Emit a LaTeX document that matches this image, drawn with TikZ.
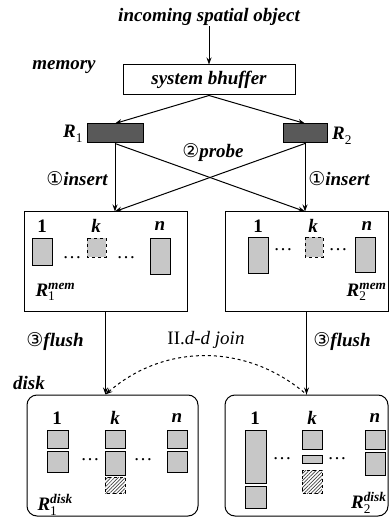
\documentclass[tikz,border=0pt]{standalone}
\usepackage{amsmath}
\usepackage{fontspec}
\setmainfont{Liberation Serif}
\newfontfamily\circfont{DejaVu Sans}
\usetikzlibrary{arrows.meta,patterns.meta}
\newcommand{\rel}[2]{$\text{R}_{\text{\upshape\mdseries #1}}^{\text{#2}}$}
\newcommand{\circnum}[1]{{\circfont\mdseries\upshape #1}}
\begin{document}
\begin{tikzpicture}[x=1pt,y=-1pt,line width=1pt,
    lbl/.style={font=\fontsize{19}{22}\selectfont\bfseries\itshape,inner sep=0pt},
    rbox/.style={draw,fill=black!65,minimum height=19pt,inner sep=0pt},
    area/.style={draw,inner sep=0pt},
    diskarea/.style={draw,rounded corners=10pt,inner sep=0pt},
    pg/.style={draw,fill=black!22},
    pgk/.style={draw,dashed,fill=black!22},
    pgh/.style={draw,dashed,pattern={Lines[angle=45,distance=2.5pt,line width=0.7pt]},pattern color=black!75},
    arr/.style={-{Stealth[length=7pt,width=5pt]}}]
  \useasboundingbox (0,0) rectangle (391,518);
  \draw
    (209,17) node[lbl] (src) {incoming spatial object}
    (64,67) node[lbl] (memlbl) {memory}
    (29,383) node[lbl] (disklbl) {disk}
    (209,80) node[area,minimum width=172pt,minimum height=30pt,lbl] (buf) {system bhuffer}
    (115,133.5) node[rbox,minimum width=56pt] (r1) {}
    (305,133.5) node[rbox,minimum width=44pt] (r2) {}
    (73,134) node[lbl] (r1lbl) {\rel{1}{}}
    (342,136) node[lbl] (r2lbl) {\rel{2}{}}
    (105.5,261.5) node[area,minimum width=163pt,minimum height=99pt] (mem1) {}
    (306.5,261.5) node[area,minimum width=163pt,minimum height=99pt] (mem2) {}
    (112.5,455.5) node[diskarea,minimum width=171pt,minimum height=121pt] (disk1) {}
    (306.5,455.5) node[diskarea,minimum width=163pt,minimum height=121pt] (disk2) {};
  \draw
    (213,153) node[lbl] (probe) {\circnum{②}probe}
    (77,179) node[lbl] (ins1) {\circnum{①}insert}
    (339,179) node[lbl] (ins2) {\circnum{①}insert}
    (55,342) node[lbl] (fl1) {\circnum{③}flush}
    (342,342) node[lbl] (fl2) {\circnum{③}flush}
    (206,340) node[lbl,font=\fontsize{19}{22}\selectfont\itshape] (join) {\textup{II.}d-d join}
    (35,292) node[lbl,anchor=west] (m1lbl) {\rel{1}{mem}}
    (387,292) node[lbl,anchor=east] (m2lbl) {\rel{2}{mem}}
    (37,505) node[lbl,anchor=west] (d1lbl) {\rel{1}{disk}}
    (387,503) node[lbl,anchor=east] (d2lbl) {\rel{2}{disk}};
  \begin{scope}[arr]
    \draw (src) -- (buf);
    \draw (buf.south) -- (r1.north);
    \draw (buf.south) -- (r2.north);
    \draw (r1.south) -- (r1.south |- mem1.north);
    \draw (r1.south) -- (r2.south |- mem2.north);
    \draw (r2.south) -- (r2.south |- mem2.north);
    \draw (r2.south) -- (r1.south |- mem1.north);
    \draw (mem1.south) -- (mem1.south |- disk1.north);
    \draw (mem2.south) -- (mem2.south |- disk2.north);
  \end{scope}
  \draw[arr,{Stealth[length=7pt,width=5pt]}-,dashed]
    (mem1.south |- disk1.north) to[bend left=41] (mem2.south |- disk2.north);
  % memory pages
  \draw
    (42,226) node[lbl] (a1) {\upshape 1}
    (96,226) node[lbl] (ak) {k}
    (160,226) node[lbl] (an) {n}
    (72,258) node[lbl] {\mdseries\upshape\dots}
    (126,258) node[lbl] {\mdseries\upshape\dots}
    (258,226) node[lbl] (b1) {\upshape 1}
    (313,226) node[lbl] (bk) {k}
    (367,226) node[lbl] (bn) {n}
    (283,250) node[lbl] {\mdseries\upshape\dots}
    (338,250) node[lbl] {\mdseries\upshape\dots};
  \draw[pg] (32,238) rectangle (52,265);
  \draw[pgk] (87,238) rectangle (106,257);
  \draw[pg] (150,238) rectangle (170,274);
  \draw[pg] (248,237) rectangle (268,273);
  \draw[pgk] (305,237) rectangle (323,257);
  \draw[pg] (355,237) rectangle (375,272);
  % disk pages
  \draw
    (57,418) node[lbl] (c1) {\upshape 1}
    (115,418) node[lbl] (ck) {k}
    (177,418) node[lbl] (cn) {n}
    (90,460) node[lbl] {\mdseries\upshape\dots}
    (143,460) node[lbl] {\mdseries\upshape\dots}
    (255,418) node[lbl] (d1) {\upshape 1}
    (312,418) node[lbl] (dk) {k}
    (375,418) node[lbl] (dn) {n}
    (282,459) node[lbl] {\mdseries\upshape\dots}
    (337,459) node[lbl] {\mdseries\upshape\dots};
  \draw[pg] (47,430) rectangle (68,448);
  \draw[pg] (47,451) rectangle (68,472);
  \draw[pg] (105,430) rectangle (125,448);
  \draw[pg] (105,451) rectangle (125,475);
  \draw[pgh] (105,477) rectangle (125,493);
  \draw[pg] (167,430) rectangle (187,448);
  \draw[pg] (167,451) rectangle (187,472);
  \draw[pg] (245,430) rectangle (266,483);
  \draw[pg] (245,486) rectangle (266,508);
  \draw[pg] (302,430) rectangle (322,449);
  \draw[pg] (302,455) rectangle (322,463);
  \draw[pgh] (302,470) rectangle (322,493);
  \draw[pg] (365,430) rectangle (385,449);
  \draw[pg] (365,452) rectangle (385,475);
\end{tikzpicture}
\end{document}
